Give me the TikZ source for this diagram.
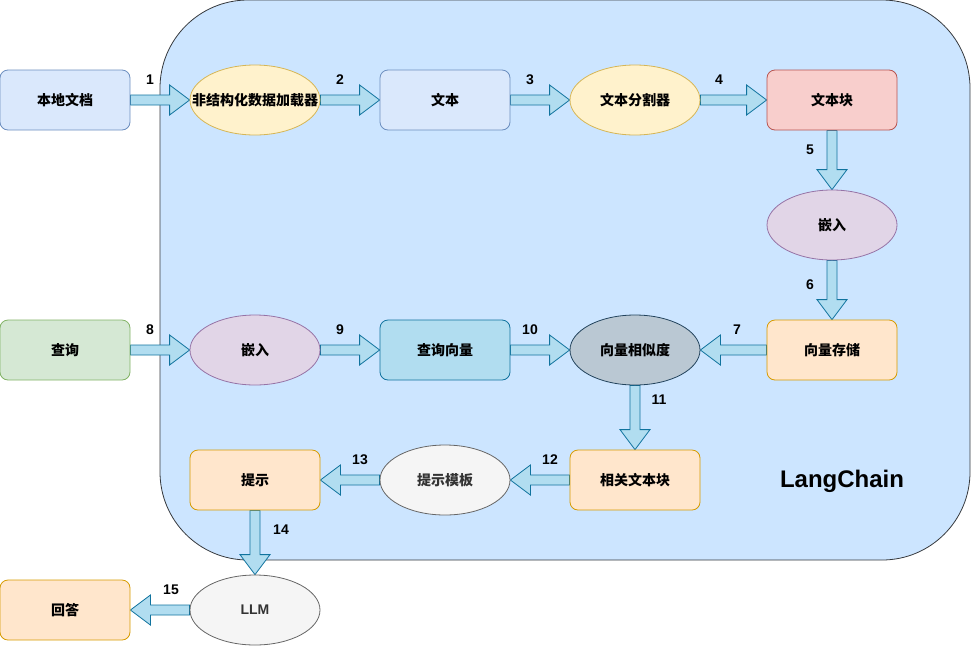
\documentclass[tikz,border=0pt]{standalone}
\usepackage{fontspec}
\setmainfont{Liberation Sans}
\newfontfamily\cjk{Noto Sans CJK SC}
\usetikzlibrary{shapes.geometric,calc}
\definecolor{contfill}{HTML}{CCE5FF}
\definecolor{contdraw}{HTML}{36393D}
\definecolor{bluef}{HTML}{DAE8FC}\definecolor{blued}{HTML}{6C8EBF}
\definecolor{yelf}{HTML}{FFF2CC}\definecolor{yeld}{HTML}{D6B656}
\definecolor{redf}{HTML}{F8CECC}\definecolor{redd}{HTML}{B85450}
\definecolor{purf}{HTML}{E1D5E7}\definecolor{purd}{HTML}{9673A6}
\definecolor{oraf}{HTML}{FFE6CC}\definecolor{orad}{HTML}{D79B00}
\definecolor{grnf}{HTML}{D5E8D4}\definecolor{grnd}{HTML}{82B366}
\definecolor{cyaf}{HTML}{B1DDF0}\definecolor{cyad}{HTML}{10739E}
\definecolor{gbf}{HTML}{BAC8D3}\definecolor{gbd}{HTML}{23445D}
\definecolor{gryf}{HTML}{F5F5F5}\definecolor{gryd}{HTML}{666666}
\definecolor{grytxt}{HTML}{333333}
\pgfdeclarelayer{bg}
\pgfdeclarelayer{arr}
\pgfsetlayers{bg,arr,main}
\newcommand\flexarr[2]{%
  \draw[farrow] let \p1=($(#2)-(#1)$), \n1={veclen(\x1,\y1)}, \n2={atan2(\y1,\x1)} in
    [shift={(#1)}, rotate=\n2]
    (0pt,-5pt) -- (\n1-20pt,-5pt) -- (\n1-20pt,-15pt) -- (\n1,0pt)
    -- (\n1-20pt,15pt) -- (\n1-20pt,5pt) -- (0pt,5pt) -- cycle;}
\begin{document}
\begin{tikzpicture}[x=1pt,y=-1pt,
  box/.style={draw, rectangle, rounded corners=8pt, minimum width=130pt, minimum height=60pt,
    line width=0.8pt, inner sep=0pt, font=\cjk\bfseries\fontsize{14}{16}\selectfont},
  ell/.style={draw, ellipse, minimum width=130pt, minimum height=70pt,
    line width=0.8pt, inner sep=0pt, font=\cjk\bfseries\fontsize{14}{16}\selectfont},
  bluebox/.style={box, fill=bluef, draw=blued},
  yelell/.style={ell, fill=yelf, draw=yeld},
  redbox/.style={box, fill=redf, draw=redd},
  purell/.style={ell, fill=purf, draw=purd},
  orabox/.style={box, fill=oraf, draw=orad},
  grnbox/.style={box, fill=grnf, draw=grnd},
  cyabox/.style={box, fill=cyaf, draw=cyad},
  gbell/.style={ell, fill=gbf, draw=gbd},
  gryell/.style={ell, fill=gryf, draw=gryd, text=grytxt},
  farrow/.style={fill=cyaf, draw=cyad, line width=0.8pt, line join=miter},
  num/.style={font=\bfseries\fontsize{14}{16}\selectfont, inner sep=0pt}
]
\useasboundingbox (0,0) rectangle (971,646);
\begin{pgfonlayer}{bg}
\draw[fill=contfill, draw=contdraw, line width=0.8pt, rounded corners=88pt] (160,0) rectangle (970,560);
\end{pgfonlayer}
\node[anchor=center, font=\bfseries\fontsize{24}{28}\selectfont] (lc) at (842,481) {LangChain};

\node[bluebox] (doc) at (65,100) {本地文档};
\node[yelell] (loader) at (255,100) {\makebox[0pt]{非结构化数据加载器}};
\node[bluebox] (text) at (445,100) {文本};
\node[yelell] (split) at (635,100) {文本分割器};
\node[redbox] (chunk) at (832,100) {文本块};
\node[purell] (emb1) at (832,225) {嵌入};
\node[orabox] (store) at (832,350) {向量存储};
\node[grnbox] (query) at (65,350) {查询};
\node[purell] (emb2) at (255,350) {嵌入};
\node[cyabox] (qvec) at (445,350) {查询向量};
\node[gbell] (sim) at (635,350) {向量相似度};
\node[orabox] (rel) at (635,480) {相关文本块};
\node[gryell] (tmpl) at (445,480) {提示模板};
\node[orabox] (prompt) at (255,480) {提示};
\node[gryell, font=\bfseries\fontsize{14}{16}\selectfont] (llm) at (255,610) {LLM};
\node[orabox] (ans) at (65,610) {回答};

\begin{pgfonlayer}{arr}
\flexarr{doc.east}{loader.west}
\flexarr{loader.east}{text.west}
\flexarr{text.east}{split.west}
\flexarr{split.east}{chunk.west}
\flexarr{chunk.south}{emb1.north}
\flexarr{emb1.south}{store.north}
\flexarr{store.west}{sim.east}
\flexarr{query.east}{emb2.west}
\flexarr{emb2.east}{qvec.west}
\flexarr{qvec.east}{sim.west}
\flexarr{sim.south}{rel.north}
\flexarr{rel.west}{tmpl.east}
\flexarr{tmpl.west}{prompt.east}
\flexarr{prompt.south}{llm.north}
\flexarr{llm.west}{ans.east}
\end{pgfonlayer}

\node[num] (n1) at (150,80) {1};
\node[num] (n2) at (340,80) {2};
\node[num] (n3) at (530,80) {3};
\node[num] (n4) at (719,80) {4};
\node[num] (n5) at (810,150) {5};
\node[num] (n6) at (810,285) {6};
\node[num] (n7) at (737,330) {7};
\node[num] (n8) at (150,330) {8};
\node[num] (n9) at (340,330) {9};
\node[num] (n10) at (530,330) {10};
\node[num] (n11) at (659,400) {11};
\node[num] (n12) at (550,460) {12};
\node[num] (n13) at (360,460) {13};
\node[num] (n14) at (281,530) {14};
\node[num] (n15) at (171,590) {15};
\end{tikzpicture}
\end{document}
